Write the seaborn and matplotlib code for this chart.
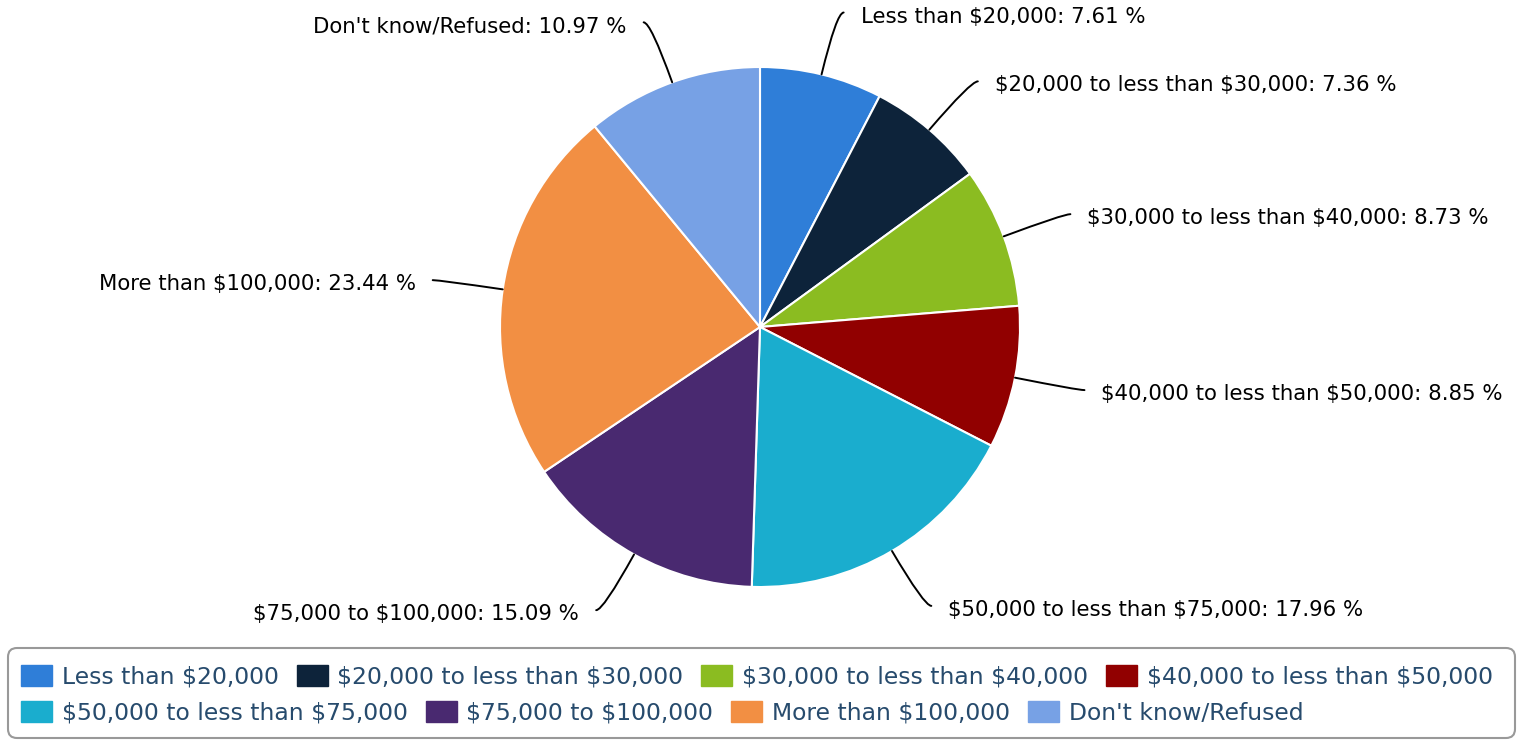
import numpy as np
import matplotlib
matplotlib.use("Agg")
import matplotlib.pyplot as plt
from matplotlib.patches import Patch, FancyBboxPatch
import seaborn as sns

categories = ["Less than $20,000", "$20,000 to less than $30,000", "$30,000 to less than $40,000",
              "$40,000 to less than $50,000", "$50,000 to less than $75,000", "$75,000 to $100,000",
              "More than $100,000", "Don't know/Refused"]
values = [7.61, 7.36, 8.73, 8.85, 17.96, 15.09, 23.44, 10.97]
colors = ["#2F7ED8", "#0D233A", "#8BBC21", "#910000", "#1AADCE", "#492970", "#F28F43", "#77A1E5"]

sns.set_theme(style="white")
plt.rcParams['font.family'] = ['DejaVu Sans']
plt.rcParams['text.parse_math'] = False

W, H = 1532, 740
fig = plt.figure(figsize=(W / 100, H / 100), dpi=100)
ax = fig.add_axes([0, 0, 1, 1])

cx, cy, R = 760, H - 327, 260
palette = sns.color_palette(colors)
wedges, _ = ax.pie(values, colors=palette, startangle=90, counterclock=False,
                   center=(cx, cy), radius=R, frame=True,
                   wedgeprops=dict(edgecolor='white', linewidth=1.5))
ax.set_xlim(0, W)
ax.set_ylim(0, H)
ax.set_aspect('equal')
ax.axis('off')

total = sum(values)
cum = 0.0
for cat, v in zip(categories, values):
    mid = (cum + v / 2) / total * 360.0  # clockwise from top
    cum += v
    th = np.deg2rad(mid)
    s, c = np.sin(th), np.cos(th)
    ex, ey = cx + R * s, cy + R * c
    lr = R * 1.245
    right = s >= 0
    sign = 1 if right else -1
    lx = cx + lr * s + sign * 7
    ly = cy + lr * c
    radial_deg = 90 - mid
    ax.annotate('', xy=(ex, ey), xytext=(lx, ly),
                arrowprops=dict(arrowstyle='-', color='black', lw=1.4,
                                shrinkA=0, shrinkB=0,
                                connectionstyle=f'angle3,angleA=0,angleB={radial_deg}'))
    ax.text(lx + sign * 17, ly - 4, f"{cat}: {v:.2f} %", ha='left' if right else 'right',
            va='center', fontsize=15.3, color='black')

# legend box
box = FancyBboxPatch((8, 2), 1507, 90, boxstyle="round,pad=0,rounding_size=9",
                     transform=ax.transData, facecolor='white', edgecolor='#999999', lw=1.5,
                     clip_on=False)
ax.add_patch(box)

handles = [Patch(facecolor=c, edgecolor=c) for c in colors]
common = dict(frameon=False, fontsize=16.9, handlelength=1.32, handleheight=1.0,
              handletextpad=0.42, columnspacing=0.76, borderpad=0, borderaxespad=0,
              labelcolor='#274b6d', loc='center left', bbox_transform=fig.transFigure)
leg1 = fig.legend(handles[:4], categories[:4], ncol=4,
                  bbox_to_anchor=(21 / W, (H - 677) / H), **common)
leg2 = fig.legend(handles[4:], categories[4:], ncol=4,
                  bbox_to_anchor=(21 / W, (H - 713) / H), **common)

fig.savefig("out.png", dpi=100)
